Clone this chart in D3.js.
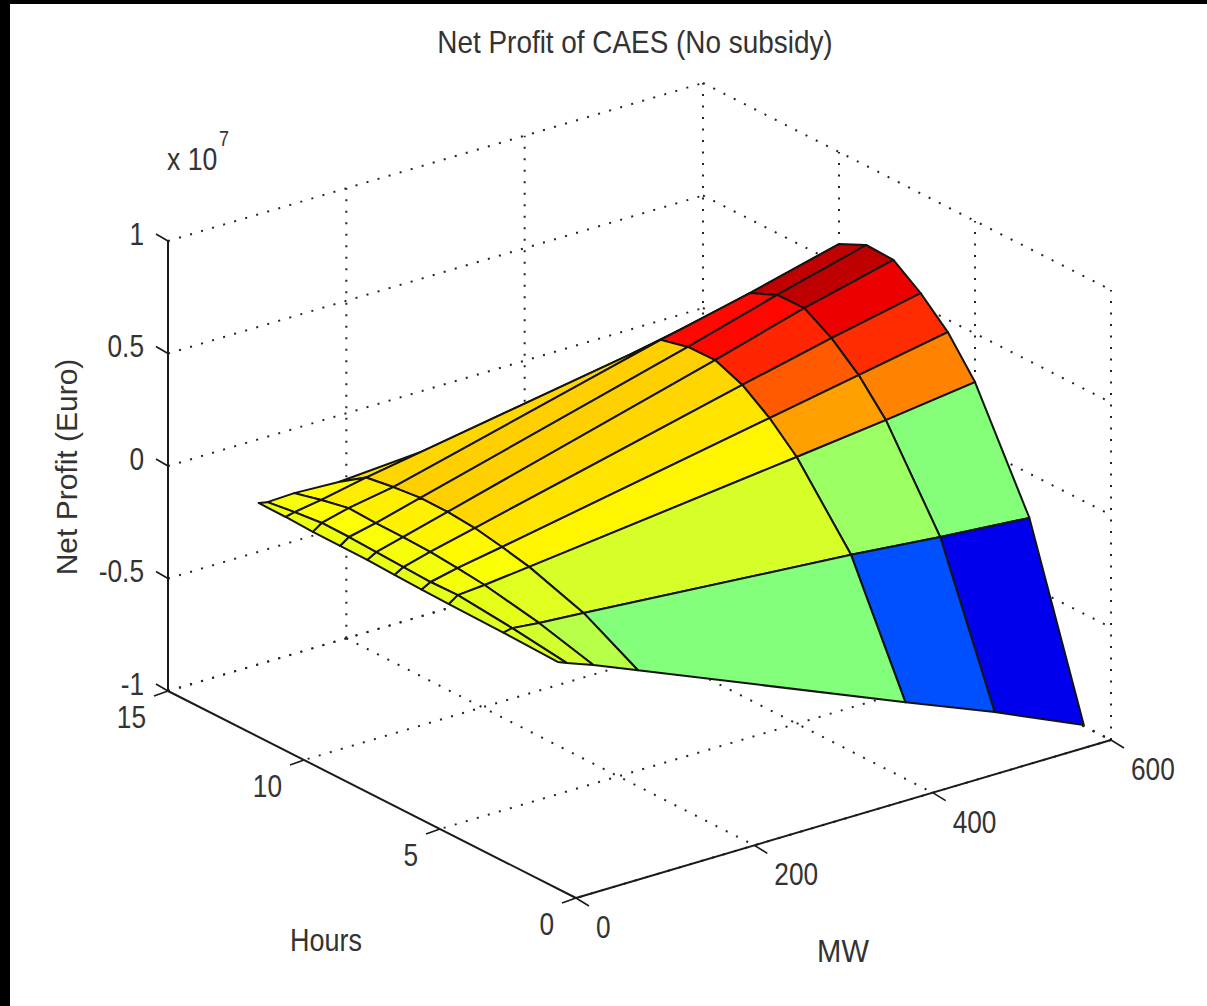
<!DOCTYPE html>
<html>
<head>
<meta charset="utf-8">
<script src="https://cdn.jsdelivr.net/npm/d3@7"></script>
<style>
    html, body { margin: 0; padding: 0; background: #fff; overflow: hidden; }
    svg { display: block; }
    text { font-family: "Liberation Sans", Arial, sans-serif; fill: #333; }
</style>
</head>
<body>
<div id="chart"></div>
<script>
const titleText = "Net Profit of CAES (No subsidy)";
const mwGrid = [10, 20, 50, 100, 400, 500, 600];
const hourGrid = [1, 3, 5, 6, 7, 8, 9, 10, 11, 12];

// net profit in units of 1e7 euro, one list per MW value, one entry per hour value
const profit10 = [-0.024, -0.016, -0.012, -0.009, -0.005, 0, 0.001, 0.002, 0.007, 0.008];
const profit20 = [-0.04, -0.008, 0.016, 0.013, 0.018, 0.023, 0.029, 0.03, 0.017, 0];
const profit50 = [-0.084, -0.02, 0.026, 0.04, 0.05, 0.055, 0.056, 0.061, 0.036, 0.005];
const profit100 = [-0.166, -0.034, 0.048, 0.075, 0.098, 0.108, 0.109, 0.096, 0.077, -0.004];
const profit400 = [-0.66, -0.127, 0.185, 0.297, 0.383, 0.432, 0.429, 0.399, 0.28, 0.08];
const profit500 = [-0.82, -0.165, 0.232, 0.371, 0.474, 0.546, 0.543, 0.49, 0.36, 0.2];
const profit600 = [-0.995, -0.197, 0.284, 0.445, 0.557, 0.643, 0.648, 0.591, 0.45, 0.3];
const profit = [profit10, profit20, profit50, profit100, profit400, profit500, profit600];

const mwTicks = [0, 200, 400, 600];
const hourTicks = [0, 5, 10, 15];
const profitTicks = [-1, -0.5, 0, 0.5, 1];

// oblique projection of the MATLAB box
const origin = {x: 576, y: 898};
const mwX = d3.scaleLinear().domain([0, 600]).range([0, 535]);
const mwY = d3.scaleLinear().domain([0, 600]).range([0, -158]);
const hourX = d3.scaleLinear().domain([0, 15]).range([0, -408]);
const hourY = d3.scaleLinear().domain([0, 15]).range([0, -207]);
const profitY = d3.scaleLinear().domain([-1, 1]).range([0, -450]);

function project(mw, hour, z){
    return [
        origin.x + mwX(mw) + hourX(hour),
        origin.y + mwY(mw) + hourY(hour) + profitY(z)
    ];
}

// jet colormap
const jet = d3.scaleLinear()
    .domain([0, 0.125, 0.375, 0.625, 0.875, 1])
    .range(["#000080", "#0000ff", "#00ffff", "#ffff00", "#ff0000", "#800000"]);
const colorOf = d3.scaleLinear().domain(d3.extent(profit.flat())).range([0, 1]);

const svg = d3.select("#chart").append("svg")
    .attr("width", 1207)
    .attr("height", 1006);

// black scan edge on top and left
svg.append("rect").attr("width", 1207).attr("height", 1006).attr("fill", "#000");
svg.append("rect").attr("x", 10).attr("y", 4).attr("width", 1197).attr("height", 1002).attr("fill", "#fff");

const line = d3.line();

function dotted(a, b){
    svg.append("path")
        .attr("d", line([a, b]))
        .attr("fill", "none")
        .attr("stroke", "#222")
        .attr("stroke-width", 2)
        .attr("stroke-dasharray", "2 9.5");
}

function solid(a, b, width){
    svg.append("path")
        .attr("d", line([a, b]))
        .attr("fill", "none")
        .attr("stroke", "#1a1a1a")
        .attr("stroke-width", width);
}

//grid on the floor and the two back walls
mwTicks.filter(m => m > 0).forEach(m => {
    dotted(project(m, 15, -1), project(m, 0, -1));
    dotted(project(m, 15, -1), project(m, 15, 1));
});
hourTicks.filter(h => h < 15).forEach(h => {
    dotted(project(600, h, -1), project(0, h, -1));
    dotted(project(600, h, -1), project(600, h, 1));
});
dotted(project(0, 15, -1), project(600, 15, -1));
dotted(project(600, 15, -1), project(600, 0, -1));
profitTicks.forEach(z => {
    dotted(project(0, 15, z), project(600, 15, z));
    dotted(project(600, 15, z), project(600, 0, z));
});

//axes
solid(project(0, 15, -1), project(0, 15, 1), 2);
solid(project(0, 0, -1), project(0, 15, -1), 2);
solid(project(0, 0, -1), project(600, 0, -1), 2);

// ticks
function offsetPoint(p, dx, dy){ return [p[0] + dx, p[1] + dy]; }

mwTicks.forEach(m => {
    const p = project(m, 0, -1);
    solid(p, offsetPoint(p, 13, 8), 1.6);
});
hourTicks.forEach(h => {
    const p = project(0, h, -1);
    solid(p, offsetPoint(p, -14, 5), 1.6);
});
profitTicks.forEach(z => {
    const p = project(0, 15, z);
    solid(p, offsetPoint(p, -12, -7), 1.6);
});

// condensed text, the original is stretched vertically
function label(x, y, str, anchor, size, widthScale){
    return svg.append("text")
        .attr("transform", `translate(${x},${y}) scale(${widthScale},1)`)
        .attr("text-anchor", anchor)
        .attr("dominant-baseline", "central")
        .attr("font-size", size)
        .text(str);
}

const tickSize = 32;
const tickScale = 0.82;
mwTicks.forEach(m => {
    const p = project(m, 0, -1);
    label(p[0] + 20, p[1] + 29, m, "start", tickSize, tickScale);
});
hourTicks.forEach(h => {
    const p = project(0, h, -1);
    label(p[0] - 22, p[1] + 26, h, "end", tickSize, tickScale);
});
profitTicks.forEach(z => {
    const p = project(0, 15, z);
    label(p[0] - 24, p[1] - 7, String(z), "end", tickSize, tickScale);
});

//surface, far faces first
const faces = [];
for (let i = mwGrid.length - 2; i >= 0; i--){
    for (let j = hourGrid.length - 2; j >= 0; j--){
        faces.push({
            corners: [
                project(mwGrid[i], hourGrid[j], profit[i][j]),
                project(mwGrid[i + 1], hourGrid[j], profit[i + 1][j]),
                project(mwGrid[i + 1], hourGrid[j + 1], profit[i + 1][j + 1]),
                project(mwGrid[i], hourGrid[j + 1], profit[i][j + 1])
            ],
            value: profit[i][j]
        });
    }
}

svg.append("g").selectAll("path")
    .data(faces)
    .join("path")
    .attr("d", d => line(d.corners) + "Z")
    .attr("fill", d => jet(colorOf(d.value)))
    .attr("stroke", "#141414")
    .attr("stroke-width", 2)
    .attr("stroke-linejoin", "round");

//titles
label(635, 42, titleText, "middle", 31, 0.9);
label(326, 940, "Hours", "middle", 31, 0.87);
label(843, 951, "MW", "middle", 31, 0.94);
svg.append("text")
    .attr("transform", "translate(66,467) rotate(-90)")
    .attr("text-anchor", "middle")
    .attr("dominant-baseline", "central")
    .attr("font-size", 30)
    .text("Net Profit (Euro)");
label(167, 159, "x 10", "start", 31, 0.86);
label(219, 138, "7", "start", 22, 0.82);
</script>
</body>
</html>
